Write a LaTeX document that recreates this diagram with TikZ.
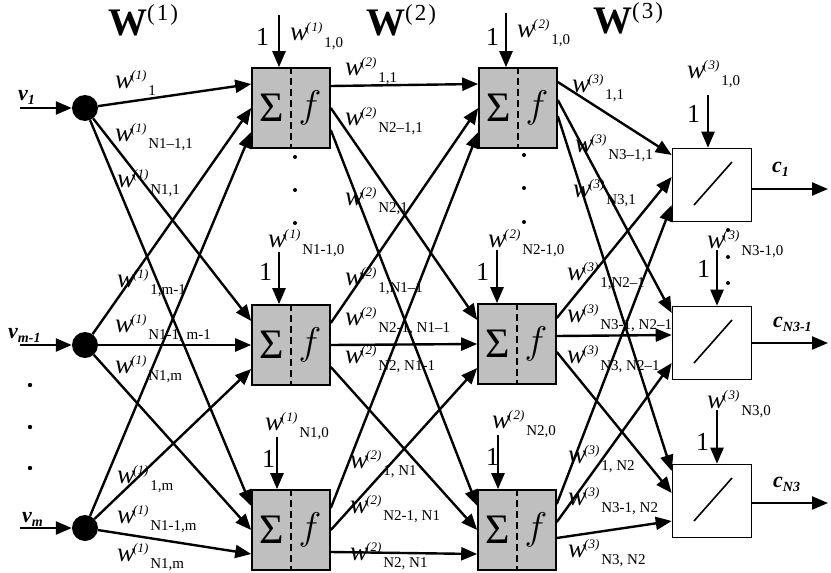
\documentclass[tikz,border=0pt]{standalone}
\usepackage{fontspec}
\setmainfont{Liberation Serif}
\usetikzlibrary{arrows.meta}

% weight label: w^(sup)_(sub), sub set after sup
\newcommand{\wlab}[2]{{\fontsize{27}{27}\selectfont\itshape w}\kern-2pt\raisebox{9pt}{\fontsize{13}{13}\selectfont\itshape #1}\kern2pt\raisebox{-7pt}{\fontsize{15}{15}\selectfont #2}}
% layer title W^(n)
\newcommand{\wtitle}[1]{{\fontsize{39}{39}\selectfont\bfseries W}\raisebox{15pt}{\fontsize{23}{23}\selectfont(\kern2pt#1\kern2pt)}}
% input / output signal name
\newcommand{\sig}[2]{{\fontsize{22}{22}\selectfont\bfseries\itshape #1}\raisebox{-4pt}{\fontsize{14}{14}\selectfont\bfseries\itshape #2}}

\begin{document}
\begin{tikzpicture}[x=1pt,y=-1pt,
  neuron/.style={circle,fill=black,minimum size=26pt,inner sep=0pt},
  sumbox/.style={draw,line width=1.6pt,fill=gray!50,minimum width=78pt,minimum height=80pt,inner sep=0pt},
  outbox/.style={draw,line width=1.6pt,fill=white,minimum width=79pt,minimum height=73pt,inner sep=0pt},
  arr/.style={line width=2.4pt,-{Triangle[length=16pt,width=13pt]}},
  lbl/.style={anchor=base west,inner sep=0pt},
  one/.style={anchor=base west,inner sep=0pt,font=\fontsize{26}{26}\selectfont}]

  \useasboundingbox (0,0) rectangle (831,573);

  % Input neurons
  \node[neuron] (v1) at (85,108) {};
  \node[neuron] (v2) at (85,345) {};
  \node[neuron] (v3) at (85,528) {};

  % First and second hidden layers
  \node[sumbox] (h1) at (291,108) {};
  \node[sumbox] (h2) at (291,345) {};
  \node[sumbox] (h3) at (291,530) {};
  \node[sumbox] (g1) at (518,108) {};
  \node[sumbox] (g2) at (517,344) {};
  \node[sumbox] (g3) at (517,530) {};
  \foreach \b in {h1,h2,h3,g1,g2,g3} {
    \draw[line width=1.3pt,dash pattern=on 7pt off 4pt] (\b.north) -- (\b.south);
    \node[font=\fontsize{42}{42}\selectfont] (\b-s) at ([xshift=-19pt]\b.center) {Σ};
    \node[font=\fontsize{24}{24}\selectfont] (\b-f) at ([xshift=19pt]\b.center) {\scalebox{1.55}{$f$}};
  }

  % Output layer with linear activation
  \node[outbox] (o1) at (712,185) {};
  \node[outbox] (o2) at (712,343) {};
  \node[outbox] (o3) at (712,501) {};
  \foreach \o in {o1,o2,o3}
    \draw[line width=1.6pt] ([shift={(-18pt,-20pt)}]\o.center) -- ([shift={(20pt,23pt)}]\o.center);

  % Inputs and outputs
  \foreach \i/\y in {1/108,2/345,3/528} {
    \coordinate (x\i) at (20,\y);
    \draw[arr] (x\i) -- (v\i);
  }
  \foreach \i/\y in {1/189,2/343,3/503} {
    \coordinate (y\i) at (828,\y);
    \draw[arr] (y\i -| o\i.east) -- (y\i);
  }

  % Connections W(1), W(2), W(3)
  \foreach \k in {1,2,3}
    \foreach \j in {1,2,3} {
      \pgfmathsetmacro{\ty}{(2-\k)*24}
      \pgfmathsetmacro{\sy}{(2-\j)*22}
      \draw[arr] (v\k) -- ([yshift=\ty pt]h\j.west);
      \draw[arr] ([yshift=\sy pt]h\k.east) -- ([yshift=\ty pt]g\j.west);
    }
  \foreach \j/\sy in {1/26,2/8,3/-8}
    \foreach \k/\ty in {1/30,2/8,3/-20}
      \draw[arr] ([yshift=\sy pt]g\k.east) -- ([yshift=\ty pt]o\j.west);

  % Bias inputs
  \foreach \b/\x/\t in {h1/279/15,h2/279/252,h3/277/437,g1/506/13,g2/497/250,g3/498/435,o1/708/95,o2/717/250,o3/717/410} {
    \coordinate (\b-b) at (\x,\t);
    \draw[arr] (\b-b) -- (\b-b |- \b.north);
  }
  \node[one] (h1-1) at (256,45) {1};
  \node[one] (h2-1) at (259,280) {1};
  \node[one] (h3-1) at (262,467) {1};
  \node[one] (g1-1) at (486,45) {1};
  \node[one] (g2-1) at (476,280) {1};
  \node[one] (g3-1) at (486,465) {1};
  \node[one] (o1-1) at (687,122) {1};
  \node[one] (o2-1) at (697,277) {1};
  \node[one] (o3-1) at (696,450) {1};

  % Dots
  \foreach \y in {385,427,468} \fill (30,\y) circle (2.2pt);
  \foreach \y in {157,190,223} \fill (295,\y) circle (2pt);
  \foreach \y in {155,188,222} \fill (524,\y) circle (2pt);
  \foreach \y in {230,257,283} \fill (728,\y) circle (2pt);

  % Titles
  \node[lbl] (t1) at (108,35) {\wtitle{1}};
  \node[lbl] (t2) at (366,35) {\wtitle{2}};
  \node[lbl] (t3) at (593,33) {\wtitle{3}};

  % Signal names
  \node[lbl] (n1) at (18,100) {\sig{v}{1}};
  \node[lbl] (n2) at (8,338) {\sig{v}{m-1}};
  \node[lbl] (n3) at (22,522) {\sig{v}{m}};
  \node[lbl] (c1) at (772,172) {\sig{c}{1}};
  \node[lbl] (c2) at (773,327) {\sig{c}{N3-1}};
  \node[lbl] (c3) at (773,487) {\sig{c}{N3}};

  % Weights W(1)
  \node[lbl] (a1) at (115,88) {\wlab{(1)}{1}};
  \node[lbl] (a2) at (115,141) {\wlab{(1)}{N1--1,1}};
  \node[lbl] (a3) at (117,187) {\wlab{(1)}{N1,1}};
  \node[lbl] (a4) at (117,287) {\wlab{(1)}{1,m-1}};
  \node[lbl] (a5) at (115,332) {\wlab{(1)}{N1-1, m-1}};
  \node[lbl] (a6) at (115,373) {\wlab{(1)}{N1,m}};
  \node[lbl] (a7) at (117,483) {\wlab{(1)}{1,m}};
  \node[lbl] (a8) at (117,523) {\wlab{(1)}{N1-1,m}};
  \node[lbl] (a9) at (117,561) {\wlab{(1)}{N1,m}};

  % Weights W(2)
  \node[lbl] (b1) at (345,75) {\wlab{(2)}{1,1}};
  \node[lbl] (b2) at (345,125) {\wlab{(2)}{N2--1,1}};
  \node[lbl] (b3) at (345,205) {\wlab{(2)}{N2,1}};
  \node[lbl] (b4) at (345,285) {\wlab{(2)}{1,N1--1}};
  \node[lbl] (b5) at (345,325) {\wlab{(2)}{N2-1, N1--1}};
  \node[lbl] (b6) at (345,363) {\wlab{(2)}{N2, N1-1}};
  \node[lbl] (b7) at (350,468) {\wlab{(2)}{1, N1}};
  \node[lbl] (b8) at (350,513) {\wlab{(2)}{N2-1, N1}};
  \node[lbl] (b9) at (350,560) {\wlab{(2)}{N2, N1}};

  % Weights W(3)
  \node[lbl] (d1) at (572,92) {\wlab{(3)}{1,1}};
  \node[lbl] (d2) at (575,152) {\wlab{(3)}{N3--1,1}};
  \node[lbl] (d3) at (573,197) {\wlab{(3)}{N3,1}};
  \node[lbl] (d4) at (567,280) {\wlab{(3)}{1,N2--1}};
  \node[lbl] (d5) at (567,322) {\wlab{(3)}{N3-1, N2--1}};
  \node[lbl] (d6) at (567,363) {\wlab{(3)}{N3, N2--1}};
  \node[lbl] (d7) at (568,463) {\wlab{(3)}{1, N2}};
  \node[lbl] (d8) at (568,505) {\wlab{(3)}{N3-1, N2}};
  \node[lbl] (d9) at (568,557) {\wlab{(3)}{N3, N2}};

  % Bias weights
  \node[lbl] (e1) at (290,40) {\wlab{(\kern1pt 1)}{1,0}};
  \node[lbl] (e2) at (268,247) {\wlab{(\kern1pt 1)}{N1-1,0}};
  \node[lbl] (e3) at (265,430) {\wlab{(\kern1pt 1)}{N1,0}};
  \node[lbl] (e4) at (517,37) {\wlab{(\kern1pt 2)}{1,0}};
  \node[lbl] (e5) at (488,247) {\wlab{(\kern1pt 2)}{N2-1,0}};
  \node[lbl] (e6) at (492,428) {\wlab{(\kern1pt 2)}{N2,0}};
  \node[lbl] (e7) at (687,78) {\wlab{(\kern1pt 3)}{1,0}};
  \node[lbl] (e8) at (707,248) {\wlab{(\kern1pt 3)}{N3-1,0}};
  \node[lbl] (e9) at (707,408) {\wlab{(\kern1pt 3)}{N3,0}};
\end{tikzpicture}
\end{document}
